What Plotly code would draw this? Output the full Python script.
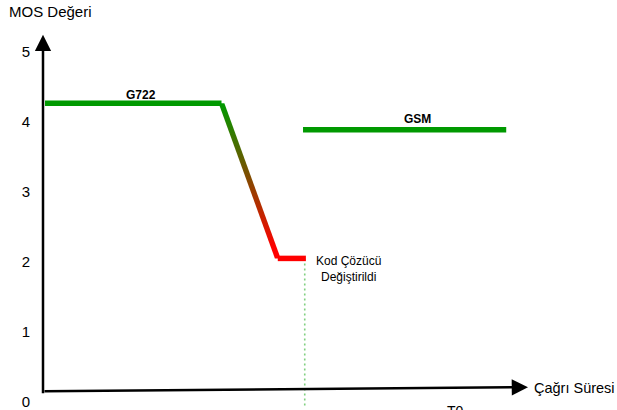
import plotly.graph_objects as go

# ---- data (time in arbitrary units 0-100, MOS score) ----
g722_time = [0.35, 31.1]
g722_mos = [4.27, 4.27]
drop_time = [31.1, 40.9]
drop_mos = [4.27, 2.05]
after_drop_time = [40.9, 45.8]
after_drop_mos = [2.05, 2.05]
switch_time = 45.6
gsm_time = [45.3, 80.7]
gsm_mos = [3.89, 3.89]
mos_ticks = [0, 1, 2, 3, 4, 5]
mos_tick_labels = ["0", "1", "2", "3", "4", "5"]

Y_RANGE = [-0.061, 5.746]
X_RANGE = [0, 100]
FONT = "Liberation Sans, Arial, Helvetica, sans-serif"
GREEN = "#009900"
RED = "#ff0000"
LW = 5.5

fig = go.Figure()

# dotted switch marker
fig.add_trace(go.Scatter(
    x=[switch_time, switch_time], y=[after_drop_mos[0], Y_RANGE[0]],
    mode="lines", line=dict(color="#80d080", width=1.6, dash="2px,3px"),
    hoverinfo="skip", showlegend=False))

# G722 level
fig.add_trace(go.Scatter(x=g722_time, y=g722_mos, mode="lines",
                         line=dict(color=GREEN, width=LW), showlegend=False))

# gradient drop (thin polygon following the drop segment)
hw = 0.5
poly_x = [drop_time[0] - hw, drop_time[0] + hw, drop_time[1] + hw, drop_time[1] - hw, drop_time[0] - hw]
poly_y = [drop_mos[0], drop_mos[0], drop_mos[1], drop_mos[1], drop_mos[0]]
fig.add_trace(go.Scatter(
    x=poly_x, y=poly_y, mode="lines", fill="toself",
    line=dict(width=0, color="rgba(0,0,0,0)"),
    fillgradient=dict(type="vertical", start=drop_mos[1], stop=drop_mos[0],
                      colorscale=[[0, RED], [0.08, RED], [1, GREEN]]),
    hoverinfo="skip", showlegend=False))

# red level after drop
fig.add_trace(go.Scatter(x=after_drop_time, y=after_drop_mos, mode="lines",
                         line=dict(color=RED, width=LW), showlegend=False))

# GSM level
fig.add_trace(go.Scatter(x=gsm_time, y=gsm_mos, mode="lines",
                         line=dict(color=GREEN, width=LW), showlegend=False))

W, H, L = 617, 410, 43
PW = W - L


def px(xp):
    return (xp - L) / PW


def py(yp):
    return (H - yp) / H


annotations = [
    # y axis arrow
    dict(xref="paper", yref="paper", x=px(43), y=py(35), ax=0, ay=360,
         text="", showarrow=True, arrowhead=2, arrowsize=1.3, arrowwidth=2.5,
         arrowcolor="black", standoff=0, startstandoff=0),
    # x axis arrow
    dict(xref="paper", yref="paper", x=px(528), y=py(391), ax=-485, ay=4,
         text="", showarrow=True, arrowhead=2, arrowsize=1.3, arrowwidth=2.5,
         arrowcolor="black", standoff=0, startstandoff=0),
    dict(xref="paper", yref="paper", x=px(7), y=py(12), xanchor="left", yanchor="middle",
         text="MOS Değeri", showarrow=False, font=dict(size=15, color="black", family=FONT)),
    dict(xref="paper", yref="paper", x=1.0, y=py(392), xanchor="right", yanchor="middle",
         text="Çağrı Süresi", showarrow=False, font=dict(size=14.5, color="black", family=FONT)),
    dict(xref="paper", yref="paper", x=px(455.5), y=py(415), xanchor="center", yanchor="middle",
         text="T0", showarrow=False, font=dict(size=14, color="black", family=FONT)),
    dict(xref="x", yref="y", x=17.1, y=4.39, xanchor="center", yanchor="middle",
         text="<b>G722</b>", showarrow=False, font=dict(size=12, color="black", family=FONT)),
    dict(xref="x", yref="y", x=65.3, y=4.04, xanchor="center", yanchor="middle",
         text="<b>GSM</b>", showarrow=False, font=dict(size=12, color="black", family=FONT)),
    dict(xref="x", yref="y", x=53.3, y=1.905, xanchor="center", yanchor="middle",
         text="Kod Çözücü<br>Değiştirildi", showarrow=False,
         font=dict(size=12, color="black", family=FONT)),
]

fig.update_layout(
    width=W, height=H,
    margin=dict(l=L, r=0, t=0, b=0, pad=0),
    paper_bgcolor="white", plot_bgcolor="white",
    xaxis=dict(range=X_RANGE, visible=False, showgrid=False, zeroline=False, fixedrange=True),
    yaxis=dict(range=Y_RANGE, tickvals=mos_ticks, ticktext=mos_tick_labels, ticks="",
               showgrid=False, zeroline=False, showline=False, ticklabelstandoff=12,
               ticklabeloverflow="allow",
               tickfont=dict(size=15, color="black", family=FONT), fixedrange=True),
    annotations=annotations,
    showlegend=False,
)

fig.write_html("out.html")
